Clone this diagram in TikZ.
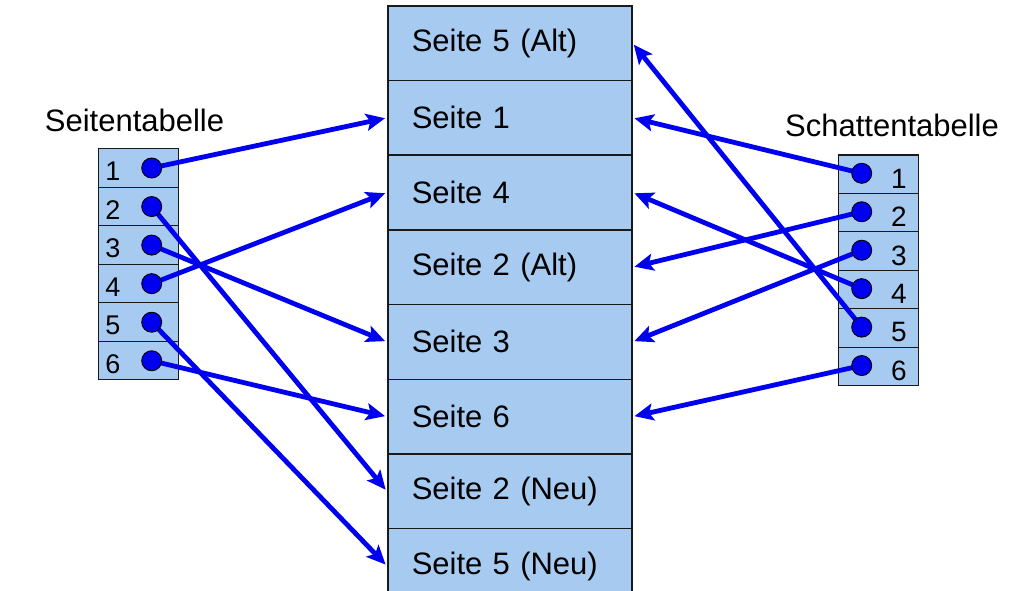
\documentclass[tikz,border=0pt]{standalone}
\usepackage{fontspec}
\setmainfont{Liberation Sans}
\usetikzlibrary{arrows.meta}
\definecolor{boxfill}{RGB}{166,202,240}
\definecolor{arrowblue}{RGB}{0,0,240}
\pgfdeclarelayer{front}
\pgfsetlayers{main,front}
\begin{document}
\begin{tikzpicture}[x=1pt,y=-1pt,
  page/.style={draw=black!90, line width=1.5pt, fill=boxfill, minimum width=244pt,
    minimum height=74.7pt, anchor=north west, text width=196pt, align=left,
    inner xsep=24pt, inner ysep=0pt, font=\fontsize{31}{36}\selectfont},
  cell/.style={draw=black!90, line width=1.2pt, fill=boxfill, minimum width=80pt,
    minimum height=38.5pt, anchor=north west, inner sep=0pt},
  lnum/.style={font=\fontsize{27}{30}\selectfont, inner sep=0pt},
  rnum/.style={font=\fontsize{28}{32}\selectfont, inner sep=0pt},
  dot/.style={circle, draw=black, line width=0.9pt, fill=arrowblue,
    minimum size=20pt, inner sep=0pt},
  link/.style={draw=arrowblue, line width=4.8pt, shorten >=2pt,
    -{Stealth[length=19pt,width=17pt,inset=4pt]}},
  title/.style={font=\fontsize{31}{36}\selectfont, inner sep=0pt}]
\useasboundingbox (0,0) rectangle (1032,590);

% central column
\node[page] (m1) at (387,5)     {Seite 5 (Alt)};
\node[page] (m2) at (387,79.7)  {Seite 1};
\node[page] (m3) at (387,154.4) {Seite 4};
\node[page] (m4) at (387,229.1) {Seite 2 (Alt)};
\node[page] (m5) at (387,303.8) {Seite 3};
\node[page] (m6) at (387,378.5) {Seite 6};
\node[page] (m7) at (387,453.2) {Seite 2 (Neu)};
\node[page] (m8) at (387,527.9) {Seite 5 (Neu)};

% titles
\node[title] (lt) at (134.5,120) {Seitentabelle};
\node[title] (rt) at (892,125) {Schattentabelle};

% tables
\foreach \i in {1,...,6}{
  \node[cell] (l\i) at (98,{148+38.55*(\i-1)}) {};
  \node[lnum] (ln\i) at (113,{171.3+38.55*(\i-1)}) {\i};
  \node[cell] (r\i) at (838,{154.3+38.45*(\i-1)}) {};
  \node[rnum] (rn\i) at (899,{178.5+38.45*(\i-1)}) {\i};
}
\begin{pgfonlayer}{front}
\foreach \i in {1,...,6}{
  \node[dot] (ld\i) at (151.7,{168+38.55*(\i-1)}) {};
  \node[dot] (rd\i) at (861.7,{173.3+38.45*(\i-1)}) {};
}
\end{pgfonlayer}

% left arrows
\draw[link] (ld1.center) -- (m2.west);
\draw[link] (ld2.center) -- (m7.west);
\draw[link] (ld3.center) -- (m5.west);
\draw[link] (ld4.center) -- (m3.west);
\draw[link] (ld5.center) -- (m8.west);
\draw[link] (ld6.center) -- (m6.west);

% right arrows
\draw[link] (rd1.center) -- (m2.east);
\draw[link] (rd2.center) -- (m4.east);
\draw[link] (rd3.center) -- (m5.east);
\draw[link] (rd4.center) -- (m3.east);
\draw[link] (rd5.center) -- (m1.east);
\draw[link] (rd6.center) -- (m6.east);
\end{tikzpicture}
\end{document}
